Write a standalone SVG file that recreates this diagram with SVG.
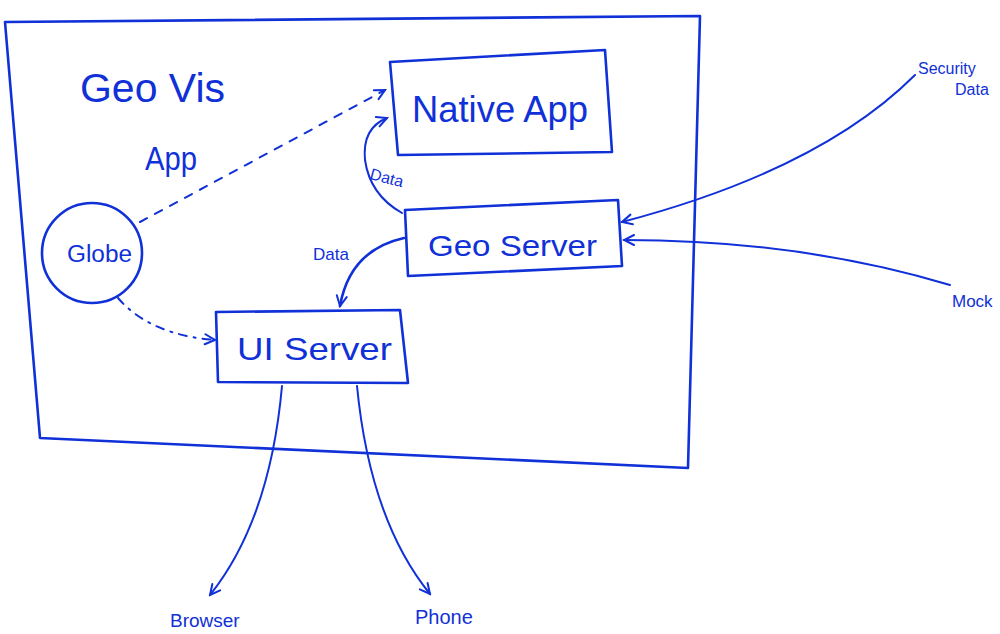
<svg xmlns="http://www.w3.org/2000/svg" width="1000" height="634" viewBox="0 0 1000 634">
<style>
.ln{fill:none;stroke:#1030d8;stroke-width:2.6;stroke-linecap:round;stroke-linejoin:round}
.th{stroke-width:2}
.tx{font-family:"Liberation Sans",Arial,sans-serif;fill:#1030d8}
.dash{stroke-dasharray:8 9}
.dd{stroke-dasharray:8 7 2 7}
</style>
<defs>
<marker id="ah" viewBox="0 0 14 14" refX="12" refY="7" markerWidth="14" markerHeight="14" markerUnits="userSpaceOnUse" orient="auto">
<path d="M2,2 L12,7 L2,12" fill="none" stroke="#1030d8" stroke-width="2" stroke-linecap="round"/>
</marker>
</defs>
<rect width="1000" height="634" fill="#fff"/>
<g id="frame">
<path class="ln" d="M5,22 L700,16 L688,468 L40,438 L5,22 Z"/>
<text class="tx" x="80" y="102" font-size="40" textLength="145" lengthAdjust="spacingAndGlyphs">Geo Vis</text>
<text class="tx" x="145" y="170" font-size="34" textLength="52" lengthAdjust="spacingAndGlyphs">App</text>
</g>
<g id="globe">
<circle class="ln" cx="92" cy="253" r="50"/>
<text class="tx" x="67" y="262" font-size="23" textLength="65" lengthAdjust="spacingAndGlyphs">Globe</text>
</g>
<g id="native-app">
<path class="ln" d="M390,62 L605,50 L612,152 L398,155 Z"/>
<text class="tx" x="412" y="122" font-size="36" textLength="176" lengthAdjust="spacingAndGlyphs">Native App</text>
</g>
<g id="geo-server">
<path class="ln" d="M405,210 L618,200 L622,266 L408,276 Z"/>
<text class="tx" x="428" y="256" font-size="30" textLength="169" lengthAdjust="spacingAndGlyphs">Geo Server</text>
</g>
<g id="ui-server">
<path class="ln" d="M216,312 L400,310 L408,383 L218,382 Z"/>
<text class="tx" x="237" y="360" font-size="32" textLength="155" lengthAdjust="spacingAndGlyphs">UI Server</text>
</g>
<g id="connectors">
<path class="ln th dash" d="M140,222 L385,90" marker-end="url(#ah)"/>
<path class="ln th dd" d="M118,298 Q150,335 215,340" marker-end="url(#ah)"/>
<path class="ln th" d="M402,213 Q370,195 365,160 Q362,128 387,118" marker-end="url(#ah)"/>
<path class="ln" d="M404,238 Q350,250 340,306" marker-end="url(#ah)"/>
<path class="ln th" d="M915,75 Q820,170 622,222" marker-end="url(#ah)"/>
<path class="ln th" d="M950,285 Q800,240 624,240" marker-end="url(#ah)"/>
<path class="ln th" d="M282,386 Q270,520 210,595" marker-end="url(#ah)"/>
<path class="ln th" d="M357,386 Q370,520 430,594" marker-end="url(#ah)"/>
</g>
<g id="labels">
<text class="tx" x="368" y="183" font-size="16" transform="rotate(15 385 185)">Data</text>
<text class="tx" x="313" y="260" font-size="17">Data</text>
<text class="tx" x="918" y="74" font-size="16">Security</text>
<text class="tx" x="955" y="95" font-size="16">Data</text>
<text class="tx" x="952" y="307" font-size="17">Mock</text>
<text class="tx" x="170" y="627" font-size="19">Browser</text>
<text class="tx" x="415" y="624" font-size="20">Phone</text>
</g>
</svg>
